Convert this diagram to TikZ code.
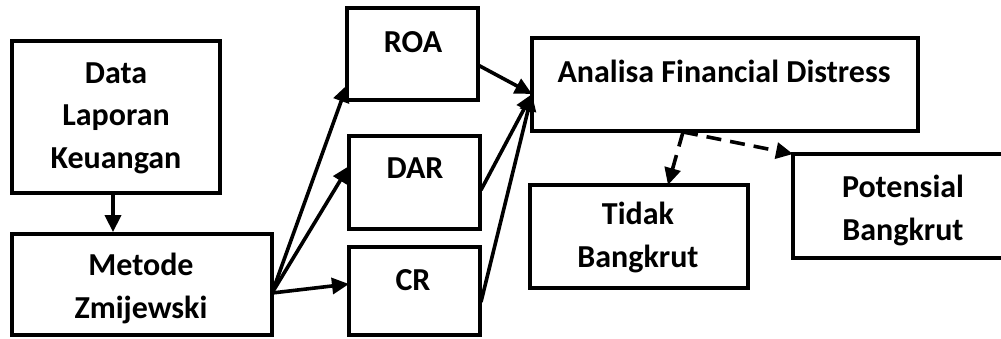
\documentclass[tikz,border=0pt]{standalone}
\usepackage{fontspec}
\setmainfont{Carlito}
\usetikzlibrary{arrows.meta}
\begin{document}
\begin{tikzpicture}[x=1pt,y=-1pt,
  box/.style={draw,line width=3.8pt,minimum width=#1,inner sep=0pt},
  txt/.style={anchor=base,align=center,inner sep=0pt,font=\fontsize{32}{42.5}\selectfont\bfseries},
  conn/.style={line width=3.6pt,-{Triangle[length=17pt,width=16pt]}},
  dconn/.style={conn,dash pattern=on 15pt off 9pt}]
\useasboundingbox (0,0) rectangle (1001,338);
\clip (0,0) rectangle (1001,338);
% boxes
\node[box=208pt,minimum height=152pt] (data) at (116,117) {};
\node[box=260pt,minimum height=101pt] (metode) at (142,284.5) {};
\node[box=131pt,minimum height=92pt] (roa) at (412.5,54) {};
\node[box=131pt,minimum height=93pt] (dar) at (414.5,182.5) {};
\node[box=131pt,minimum height=88pt] (cr) at (414.5,291) {};
\node[box=386pt,minimum height=93pt] (analisa) at (725,84.5) {};
\node[box=218pt,minimum height=103pt] (tidak) at (639,236.5) {};
\node[box=230pt,minimum height=104pt] (potensial) at (908,206) {};
% texts (anchor = baseline of last line)
\node[txt] (tdata) at (116,168) {Data\\Laporan\\Keuangan};
\node[txt] (tmetode) at (141,318) {Metode\\Zmijewski};
\node[txt] (troa) at (413,52) {ROA};
\node[txt] (tdar) at (415,178) {DAR};
\node[txt] (tcr) at (413,290) {CR};
\node[txt] (tanalisa) at (724,82) {Analisa Financial Distress};
\node[txt] (ttidak) at (638,267) {Tidak\\Bangkrut};
\node[txt] (tpotensial) at (903,240) {Potensial\\Bangkrut};
% connector points
\coordinate (ms) at (272,293);
\coordinate (ain) at (532,94);
\coordinate (aout) at (683,132);
\coordinate (roain) at (347,85);
\coordinate (darin) at (349,166);
\coordinate (crin) at (349,284);
\coordinate (roaout) at (478,65);
\coordinate (darout) at (481,190);
\coordinate (crout) at (481,302);
\coordinate (tidakin) at (668,185);
\coordinate (potin) at (793,154);
% connectors
\draw[conn] ([xshift=-3pt]data.south) -- ([xshift=-3pt]data.south |- metode.north);
\draw[conn] (ms) -- (roain);
\draw[conn] (ms) -- (darin);
\draw[conn] (ms) -- (crin);
\draw[conn] (roaout) -- (ain);
\draw[conn] (darout) -- (ain);
\draw[conn] (crout) -- (ain);
\draw[dconn] (aout) -- (tidakin);
\draw[dconn] (aout) -- (potin);
\end{tikzpicture}
\end{document}
